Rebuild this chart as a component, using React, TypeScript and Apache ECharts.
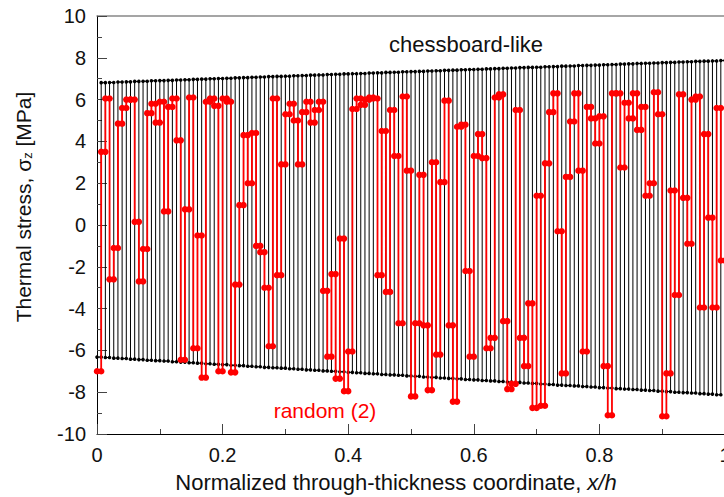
import React, { useEffect, useRef } from "react";
import * as echarts from "echarts";

// Chessboard-like distribution: top values (odd layers) and bottom values (even layers)
const chessTop: number[] = [
  6.81, 6.82, 6.84, 6.85, 6.87, 6.88, 6.9, 6.91, 6.92, 6.94,
  6.95, 6.97, 6.98, 7.0, 7.01, 7.02, 7.04, 7.05, 7.07, 7.08,
  7.1, 7.11, 7.12, 7.14, 7.15, 7.17, 7.18, 7.2, 7.21, 7.23,
  7.24, 7.25, 7.27, 7.28, 7.3, 7.31, 7.33, 7.34, 7.35, 7.37,
  7.38, 7.4, 7.41, 7.43, 7.44, 7.45, 7.47, 7.48, 7.5, 7.51,
  7.53, 7.54, 7.55, 7.57, 7.58, 7.6, 7.61, 7.63, 7.64, 7.65,
  7.67, 7.68, 7.7, 7.71, 7.73, 7.74, 7.75, 7.77, 7.78, 7.8,
  7.81, 7.83, 7.84, 7.85, 7.87,
];
const chessBottom: number[] = [
  -6.32, -6.34, -6.37, -6.39, -6.42, -6.44, -6.47, -6.49, -6.51, -6.54,
  -6.56, -6.59, -6.61, -6.64, -6.66, -6.68, -6.71, -6.73, -6.76, -6.78,
  -6.81, -6.83, -6.85, -6.88, -6.9, -6.93, -6.95, -6.98, -7.0, -7.02,
  -7.05, -7.07, -7.1, -7.12, -7.15, -7.17, -7.19, -7.22, -7.24, -7.27,
  -7.29, -7.32, -7.34, -7.36, -7.39, -7.41, -7.44, -7.46, -7.49, -7.51,
  -7.53, -7.56, -7.58, -7.61, -7.63, -7.66, -7.68, -7.7, -7.73, -7.75,
  -7.78, -7.8, -7.83, -7.85, -7.87, -7.9, -7.92, -7.95, -7.97, -8.0,
  -8.02, -8.04, -8.07, -8.09, -8.12,
];
// Random distribution (2): one value per layer
const randomValues: number[] = [
  -7.0, 3.5, 6.05, -2.6, -1.1, 4.85, 5.6, 6.0, 6.0, 0.15,
  -2.7, -1.15, 5.35, 5.8, 4.9, 5.9, 0.65, 5.65, 6.05, 4.05,
  -6.45, 0.75, 6.1, -5.9, -0.5, -7.3, 5.9, 6.05, 5.7, -7.0,
  6.05, 5.9, -7.05, -2.85, 0.95, 4.3, 2.0, 4.4, -1.0, -1.3,
  -3.0, -5.8, 6.05, -2.4, 2.9, 5.3, 5.8, 5.0, 2.9, 5.4,
  5.9, 4.9, 5.5, 5.9, -3.15, -6.3, -2.35, -7.35, -0.65, -7.95,
  -6.05, 5.55, 6.05, 5.75, 6.0, 6.1, 6.05, -2.4, 4.5, -3.2,
  5.5, 3.3, -4.7, 6.15, 2.6, -8.2, -4.7, 2.4, -4.8, -7.9,
  3.0, -6.2, 2.05, 5.95, -4.8, -8.45, 4.7, 4.8, -2.2, -6.3,
  3.3, 4.35, 3.2, -5.9, -5.4, 6.1, 6.25, -4.6, -7.85, -7.6,
  5.5, -5.4, -6.75, -3.75, -8.75, 1.4, -8.65, 2.95, 5.4, 6.3,
  -0.3, -7.1, 2.3, 4.95, 6.3, 2.6, -6.05, 5.65, 5.1, 3.9,
  5.2, -6.75, -9.1, 6.3, 6.3, 2.75, 5.85, 5.1, 6.3, 4.55,
  5.65, 1.4, 2.0, 6.35, 5.3, -9.15, -7.1, 1.65, -3.35, 6.25,
  1.3, -0.9, 6.0, 6.15, -3.95, 4.35, 0.35, -3.95, 5.6, -1.7,
];
const xTicks = [0, 0.2, 0.4, 0.6, 0.8, 1];
const yTicks = [-10, -8, -6, -4, -2, 0, 2, 4, 6, 8, 10];

const FONT = "'Liberation Sans', Arial, sans-serif";

function layerSteps(values: number[]): number[][] {
  const n = values.length;
  const out: number[][] = [];
  values.forEach((v, i) => {
    out.push([i / n, v]);
    out.push([(i + 1) / n, v]);
  });
  return out;
}

export default function App() {
  const ref = useRef<HTMLDivElement>(null);
  useEffect(() => {
    document.body.style.margin = "0";
    if (!ref.current) return;
    const chart = echarts.init(ref.current, undefined, { renderer: "svg" });
    const nLayers = chessTop.length + chessBottom.length;
    const chessValues: number[] = [];
    for (let i = 0; i < nLayers; i++) {
      chessValues.push(i % 2 === 0 ? chessBottom[i / 2] : chessTop[(i - 1) / 2]);
    }
    const chessData = layerSteps(chessValues);
    const randomData = layerSteps(randomValues);

    chart.setOption({
      animation: false,
      backgroundColor: "#fff",
      grid: {
        left: 97,
        top: 16,
        width: 628,
        height: 418,
        containLabel: false,
        outerBoundsMode: "none",
      },
      xAxis: [
        {
          type: "value",
          min: xTicks[0],
          max: xTicks[xTicks.length - 1],
          interval: 0.2,
          position: "bottom",
          axisLine: { onZero: false, lineStyle: { color: "#000", width: 1 } },
          axisTick: { inside: true, length: 10, lineStyle: { color: "#444" } },
          minorTick: { show: true, splitNumber: 2, length: 5, lineStyle: { color: "#444" } },
          splitLine: { show: false },
          axisLabel: { fontSize: 20, fontFamily: FONT, color: "#111", margin: 11 },
        },
        {
          type: "value",
          min: 0,
          max: 1,
          position: "top",
          axisLine: { show: true, onZero: false, lineStyle: { color: "#888", width: 1.5 } },
          axisTick: { show: false },
          axisLabel: { show: false },
          splitLine: { show: false },
        },
      ],
      yAxis: {
        type: "value",
        min: yTicks[0],
        max: yTicks[yTicks.length - 1],
        interval: 2,
        axisLine: { show: true, onZero: false, lineStyle: { color: "#000", width: 1 } },
        axisTick: { show: true, inside: true, length: 10, lineStyle: { color: "#444" } },
        minorTick: { show: true, splitNumber: 2, length: 5, lineStyle: { color: "#444" } },
        splitLine: { show: false },
        axisLabel: { fontSize: 20, fontFamily: FONT, color: "#111", margin: 11 },
      },
      series: [
        {
          name: "chessboard-like",
          type: "line",
          data: chessData,
          xAxisIndex: 0,
          symbol: "circle",
          symbolSize: 3.6,
          showSymbol: true,
          itemStyle: { color: "#000" },
          lineStyle: { color: "#000", width: 1 },
          z: 2,
        },
        {
          name: "random (2)",
          type: "line",
          data: randomData,
          xAxisIndex: 0,
          symbol: "circle",
          symbolSize: 6.5,
          showSymbol: true,
          itemStyle: { color: "#ff0000" },
          lineStyle: { color: "#ff0000", width: 1.8 },
          z: 3,
        },
      ],
      graphic: [
        {
          type: "text",
          x: 396,
          y: 482,
          z: 10,
          style: {
            text: "Normalized through-thickness coordinate, {it|x/h}",
            font: `22px ${FONT}`,
            fill: "#111",
            align: "center",
            verticalAlign: "middle",
            rich: { it: { fontStyle: "italic", fontSize: 22, fontFamily: FONT, fill: "#111" } },
          },
        },
        {
          type: "text",
          x: 23,
          y: 207,
          rotation: Math.PI / 2,
          z: 10,
          style: {
            text: "Thermal stress, σ{sub|z} [MPa]",
            font: `21px ${FONT}`,
            fill: "#111",
            align: "center",
            verticalAlign: "middle",
            rich: {
              sub: { fontSize: 13, fontFamily: FONT, fill: "#111", verticalAlign: "bottom", padding: [9, 0, 0, 0] },
            },
          },
        },
        {
          type: "text",
          x: 466,
          y: 44,
          z: 10,
          style: {
            text: "chessboard-like",
            font: `22px ${FONT}`,
            fill: "#111",
            align: "center",
            verticalAlign: "middle",
          },
        },
        {
          type: "text",
          x: 325,
          y: 410,
          z: 10,
          style: {
            text: "random (2)",
            font: `21px ${FONT}`,
            fill: "#ff0000",
            align: "center",
            verticalAlign: "middle",
          },
        },
      ],
    });
    return () => chart.dispose();
  }, []);
  return <div ref={ref} style={{ width: 724, height: 497 }} />;
}
